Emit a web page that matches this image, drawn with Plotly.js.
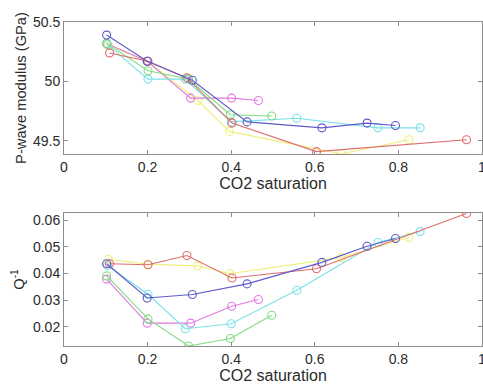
<!DOCTYPE html>
<html>
<head>
<meta charset="utf-8">
<script src="https://cdn.plot.ly/plotly-3.0.1.min.js"></script>
<style>html,body{margin:0;padding:0;background:#fff}</style>
</head>
<body>
<div id="chart" style="width:483px;height:388px"></div>
<script>
// CO2 saturation per series
const xBlue    = [0.102, 0.199, 0.307, 0.438, 0.617, 0.725, 0.793];
const xRed     = [0.109, 0.201, 0.294, 0.402, 0.604, 0.963];
const xGreen   = [0.102, 0.201, 0.298, 0.398, 0.497];
const xCyan    = [0.104, 0.201, 0.290, 0.400, 0.557, 0.751, 0.852];
const xMagenta = [0.102, 0.199, 0.303, 0.401, 0.465];
const xYellow  = [0.106, 0.200, 0.320, 0.396, 0.663, 0.825];

// P-wave modulus (GPa)
const mBlue    = [50.39, 50.17, 50.01, 49.66, 49.61, 49.65, 49.63];
const mRed     = [50.24, 50.17, 50.03, 49.65, 49.41, 49.51];
const mGreen   = [50.32, 50.09, 50.02, 49.72, 49.71];
const mCyan    = [50.31, 50.02, 50.02, 49.66, 49.69, 49.61, 49.61];
const mMagenta = [50.32, 50.17, 49.86, 49.86, 49.84];
const mYellow  = [50.30, 50.17, 49.84, 49.58, 49.39, 49.51];

// Q^-1
const qBlue    = [0.0437, 0.0308, 0.0321, 0.0361, 0.0442, 0.0503, 0.0532];
const qRed     = [0.0437, 0.0433, 0.0468, 0.0383, 0.0418, 0.0626];
const qGreen   = [0.0391, 0.0229, 0.0127, 0.0155, 0.0243];
const qCyan    = [0.0430, 0.0322, 0.0192, 0.0211, 0.0337, 0.0517, 0.0558];
const qMagenta = [0.0379, 0.0213, 0.0213, 0.0277, 0.0302];
const qYellow  = [0.0454, 0.0435, 0.0429, 0.0399, 0.0460, 0.0536];

const xTicks = [0, 0.2, 0.4, 0.6, 0.8, 1];
const xTickText = ['0', '0.2', '0.4', '0.6', '0.8', '1'];
const mTicks = [49.5, 50, 50.5];
const mTickText = ['49.5', '50', '50.5'];
const qTicks = [0.02, 0.03, 0.04, 0.05, 0.06];
const qTickText = ['0.02', '0.03', '0.04', '0.05', '0.06'];

const series = [
  {x: xYellow,  m: mYellow,  q: qYellow,  c: '#f0ee78'},
  {x: xMagenta, m: mMagenta, q: qMagenta, c: '#e078e0'},
  {x: xCyan,    m: mCyan,    q: qCyan,    c: '#78e2e6'},
  {x: xGreen,   m: mGreen,   q: qGreen,   c: '#80dc80'},
  {x: xRed,     m: mRed,     q: qRed,     c: '#e06c6c'},
  {x: xBlue,    m: mBlue,    q: qBlue,    c: '#5e5ac8'}
];

const traces = [];
series.forEach(s => {
  const common = {mode: 'lines+markers', line: {color: s.c, width: 1.1},
    marker: {symbol: 'circle-open', size: 8, color: s.c, line: {width: 1.1, color: s.c}},
    showlegend: false, hoverinfo: 'skip'};
  traces.push(Object.assign({x: s.x, y: s.m, xaxis: 'x', yaxis: 'y'}, common));
  traces.push(Object.assign({x: s.x, y: s.q, xaxis: 'x2', yaxis: 'y2'}, common));
});

const fam = 'Liberation Sans, Arial, sans-serif';
const axFont = {family: fam, size: 14, color: '#2b2b2b'};
const xTitleFont = {family: fam, size: 16, color: '#2b2b2b'};
const yTitleFont = {family: fam, size: 14.7, color: '#2b2b2b'};
const axCommon = {showline: true, mirror: 'ticks', linecolor: '#8c8c8c', linewidth: 1,
  ticks: 'inside', ticklen: 4, tickcolor: '#8c8c8c', showgrid: false, zeroline: false,
  tickfont: axFont, automargin: false, ticklabeloverflow: 'allow'};

const layout = {
  width: 483, height: 388,
  margin: {l: 64, r: 1, t: 22, b: 42},
  paper_bgcolor: '#fff', plot_bgcolor: '#fff',
  xaxis: Object.assign({}, axCommon, {domain: [0, 1], anchor: 'y', range: [0, 1],
    tickvals: xTicks, ticktext: xTickText,
    title: {text: 'CO2 saturation', font: xTitleFont, standoff: 1}}),
  yaxis: Object.assign({}, axCommon, {domain: [0.5926, 1], anchor: 'x', range: [49.39, 50.5],
    tickvals: mTicks, ticktext: mTickText,
    title: {text: 'P-wave modulus (GPa)', font: yTitleFont, standoff: 2}}),
  xaxis2: Object.assign({}, axCommon, {domain: [0, 1], anchor: 'y2', range: [0, 1],
    tickvals: xTicks, ticktext: xTickText,
    title: {text: 'CO2 saturation', font: xTitleFont, standoff: 1}}),
  yaxis2: Object.assign({}, axCommon, {domain: [0, 0.4105], anchor: 'x2', range: [0.0127, 0.0628],
    tickvals: qTicks, ticktext: qTickText,
    title: {text: 'Q<sup>-1</sup>', font: yTitleFont, standoff: 4}})
};

Plotly.newPlot('chart', traces, layout, {displayModeBar: false, staticPlot: true});
</script>
</body>
</html>
